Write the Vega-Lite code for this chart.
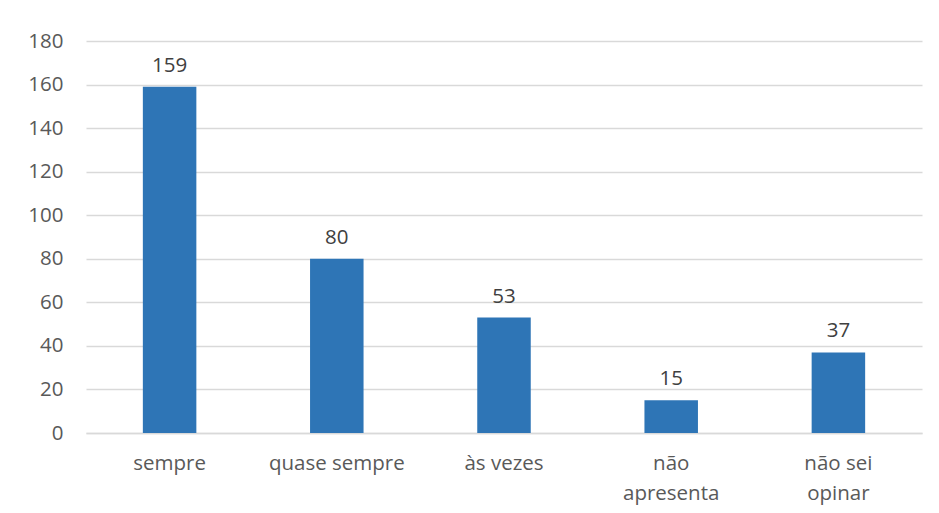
{
  "$schema": "https://vega.github.io/schema/vega-lite/v6.json",
  "autosize": {"type": "none"},
  "width": 836,
  "height": 392,
  "padding": {"left": 86, "top": 41, "right": 17, "bottom": 80},
  "background": "white",
  "config": {
    "view": {"stroke": null},
    "font": "Open Sans",
    "axis": {"labelFont": "Open Sans", "labelFontSize": 20.5, "labelColor": "#595959", "gridColor": "#d9d9d9", "gridWidth": 1.3}
  },
  "data": {"values": [
    {"categoria": "sempre", "n": 159},
    {"categoria": "quase sempre", "n": 80},
    {"categoria": "às vezes", "n": 53},
    {"categoria": "não apresenta", "n": 15},
    {"categoria": "não sei opinar", "n": 37}
  ]},
  "encoding": {
    "x": {
      "field": "categoria", "type": "nominal", "sort": null,
      "scale": {"paddingInner": 0, "paddingOuter": 0},
      "axis": {
        "title": null, "labelAngle": 0, "ticks": false, "domain": true, "domainColor": "#d9d9d9", "domainWidth": 1.3,
        "labelPadding": 20, "labelLineHeight": 30,
        "labelExpr": "datum.label == 'não apresenta' ? ['não', 'apresenta'] : datum.label == 'não sei opinar' ? ['não sei', 'opinar'] : datum.label"
      }
    },
    "y": {
      "field": "n", "type": "quantitative",
      "scale": {"domain": [0, 180], "nice": false},
      "axis": {"title": null, "values": [0,20,40,60,80,100,120,140,160,180], "ticks": false, "domain": false, "labelPadding": 23}
    }
  },
  "layer": [
    {"mark": {"type": "bar", "color": "#2e75b6", "width": {"band": 0.32}}},
    {"mark": {"type": "text", "baseline": "bottom", "dy": -11, "fontSize": 20.5, "color": "#404040", "font": "Open Sans"}, "encoding": {"text": {"field": "n"}}}
  ]
}
